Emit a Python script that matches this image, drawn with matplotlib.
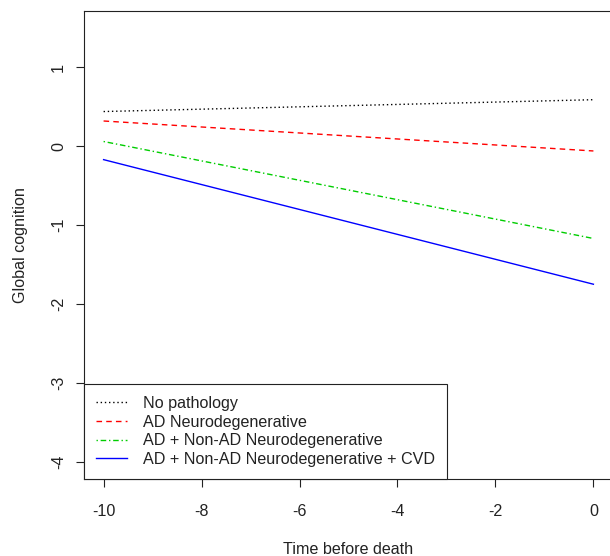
import numpy as np
import matplotlib.pyplot as plt

plt.rcParams['font.family'] = ['Liberation Sans', 'DejaVu Sans']
plt.rcParams['axes.unicode_minus'] = False

# fitted trajectories, value at -10 years and at death (0)
time = [-10, 0]
no_path = [0.44, 0.59]
ad_neuro = [0.32, -0.06]
ad_nonad = [0.06, -1.17]
ad_nonad_cvd = [-0.17, -1.75]

labels = ['No pathology', 'AD Neurodegenerative',
          'AD + Non-AD Neurodegenerative', 'AD + Non-AD Neurodegenerative + CVD']
xticks = [-10, -8, -6, -4, -2, 0]
yticks = [-4, -3, -2, -1, 0, 1]

W, H = 610, 556
fs = 11.6
fig = plt.figure(figsize=(W / 100, H / 100), dpi=100)
# axes box runs a little past the right edge of the image, as in the reference
ax = fig.add_axes([84 / W, 1 - 479 / H, (613 - 84) / W, (479 - 10.6) / H])

ax.plot(time, no_path, color='black', lw=1.0, ls=(0, (1, 2)), label=labels[0])
ax.plot(time, ad_neuro, color='#ff0000', lw=1.0, ls=(0, (4, 3)), label=labels[1])
ax.plot(time, ad_nonad, color='#00cd00', lw=1.0, ls=(0, (1, 2, 4, 2)), label=labels[2])
ax.plot(time, ad_nonad_cvd, color='#0000ff', lw=1.0, ls='-', label=labels[3])

ax.set_xlim(-10.4, 0.4)
ax.set_ylim(-4.22, 1.72)
ax.set_xticks(xticks)
ax.set_yticks(yticks)
ax.set_yticklabels([str(v) for v in yticks], rotation=90, va='center')
ax.tick_params(direction='out', length=5.8, width=0.8, labelsize=fs, colors='#222222')
ax.tick_params(axis='x', pad=12)
ax.tick_params(axis='y', pad=7)
for s in ax.spines.values():
    s.set_linewidth(0.8)
    s.set_color('#222222')

ax.set_xlabel('Time before death', fontsize=fs, labelpad=17, color='#222222')
ax.set_ylabel('Global cognition', fontsize=fs, labelpad=17, color='#222222')

leg = ax.legend(loc='lower left', borderaxespad=0, fancybox=False,
                edgecolor='#222222', framealpha=1, fontsize=fs,
                handlelength=1.95, handletextpad=0.95, labelspacing=0.23,
                borderpad=0.75)
leg.get_frame().set_linewidth(0.8)
for t in leg.get_texts():
    t.set_color('#222222')

fig.savefig('out.png', dpi=100)
